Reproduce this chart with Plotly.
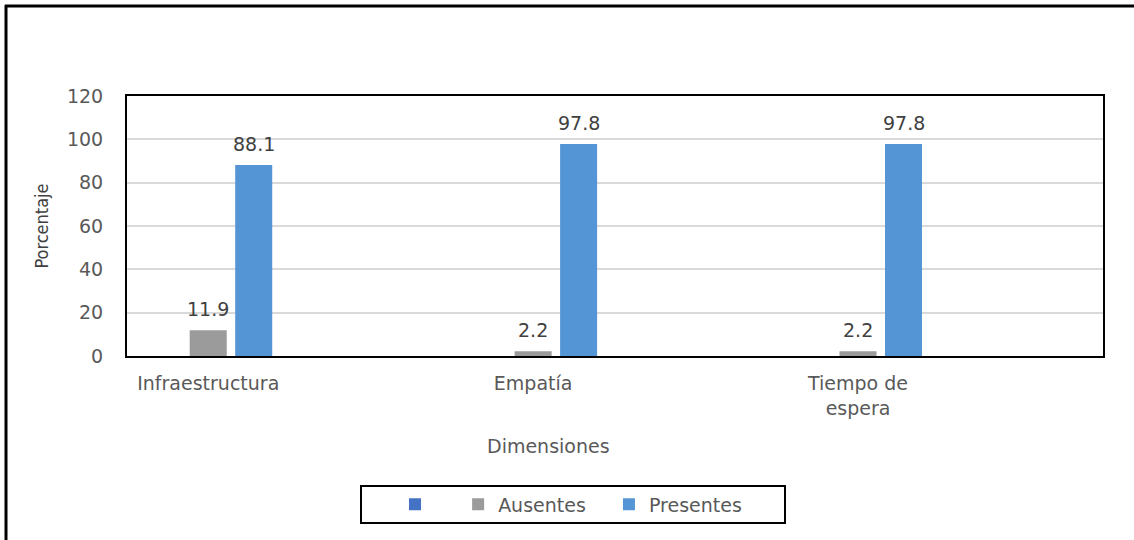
import plotly.graph_objects as go

# ---- data ----
categories = ["Infraestructura", "Empatía", "Tiempo de<br>espera"]
blank_values = [0, 0, 0]
ausentes = [11.9, 2.2, 2.2]
presentes = [88.1, 97.8, 97.8]
y_ticks = [0, 20, 40, 60, 80, 100, 120]

W, H = 1134, 540
L, R, T, B = 127, 31, 96, 184
PW, PH = W - L - R, H - T - B

def px_x(p):
    return (p - L) / PW

def px_y(p):
    return (H - B - p) / PH

FONT = "DejaVu Sans"
GRAY_TXT = "#595959"
NBSP = "\u00a0"

fig = go.Figure()
fig.add_trace(go.Bar(x=categories, y=blank_values, name=NBSP * 3,
                     marker=dict(color="#4472c4", line=dict(width=0)), showlegend=True))
fig.add_trace(go.Bar(x=categories, y=ausentes, name="Ausentes" + NBSP * 3,
                     marker=dict(color="#9b9b9b", line=dict(width=0))))
fig.add_trace(go.Bar(x=categories, y=presentes, name="Presentes",
                     marker=dict(color="#5495d6", line=dict(width=0))))

# data labels
slot_px = 45.5
for vals, shift in ((ausentes, 0), (presentes, slot_px)):
    for c, v in zip(categories, vals):
        fig.add_annotation(x=c, y=v, xref="x", yref="y", text=f"{v:.1f}",
                           showarrow=False, xshift=shift, yshift=8, yanchor="bottom",
                           font=dict(family=FONT, size=19, color="#404040"))

# x axis title
fig.add_annotation(x=px_x(548), y=px_y(446), xref="paper", yref="paper",
                   text="Dimensiones", showarrow=False, yanchor="middle",
                   font=dict(family=FONT, size=19, color=GRAY_TXT))

# outer border (left + top)
fig.add_shape(type="line", xref="paper", yref="paper",
              x0=px_x(6), x1=px_x(6), y0=px_y(5), y1=px_y(545),
              line=dict(color="black", width=3))
fig.add_shape(type="line", xref="paper", yref="paper",
              x0=px_x(5), x1=px_x(1140), y0=px_y(6), y1=px_y(6),
              line=dict(color="black", width=3))
# legend box
fig.add_shape(type="rect", xref="paper", yref="paper",
              x0=px_x(361), x1=px_x(785), y0=px_y(486), y1=px_y(523),
              line=dict(color="black", width=2), fillcolor="rgba(0,0,0,0)")

fig.update_layout(
    width=W, height=H,
    margin=dict(l=L, r=R, t=T, b=B, autoexpand=False),
    paper_bgcolor="white", plot_bgcolor="white",
    barmode="group", bargap=0.58, bargroupgap=0.186,
    font=dict(family=FONT, size=19, color=GRAY_TXT),
    showlegend=True,
    legend=dict(orientation="h", x=px_x(395), xanchor="left",
                y=px_y(504.5), yanchor="middle",
                font=dict(family=FONT, size=19, color=GRAY_TXT),
                bgcolor="rgba(0,0,0,0)", borderwidth=0, traceorder="normal"),
)
fig.update_xaxes(
    type="category", range=[-0.25, 2.754], showgrid=False,
    showline=True, mirror=True, linecolor="black", linewidth=2,
    ticks="", ticklabelstandoff=9, tickfont=dict(family=FONT, size=19, color=GRAY_TXT),
    automargin=False,
)
fig.update_yaxes(
    range=[0, 120], tickvals=y_ticks, showgrid=True, gridcolor="#d9d9d9", gridwidth=1.5,
    zeroline=False, showline=True, mirror=True, linecolor="black", linewidth=2,
    ticks="", ticklabelstandoff=18, tickfont=dict(family=FONT, size=19, color=GRAY_TXT),
    title=dict(text="Porcentaje", standoff=14,
               font=dict(family="DejaVu Sans Condensed, Liberation Sans Narrow, Liberation Sans, sans-serif",
                         size=18, color="#404040")),
    automargin=False,
)

fig.write_html("out.html")
